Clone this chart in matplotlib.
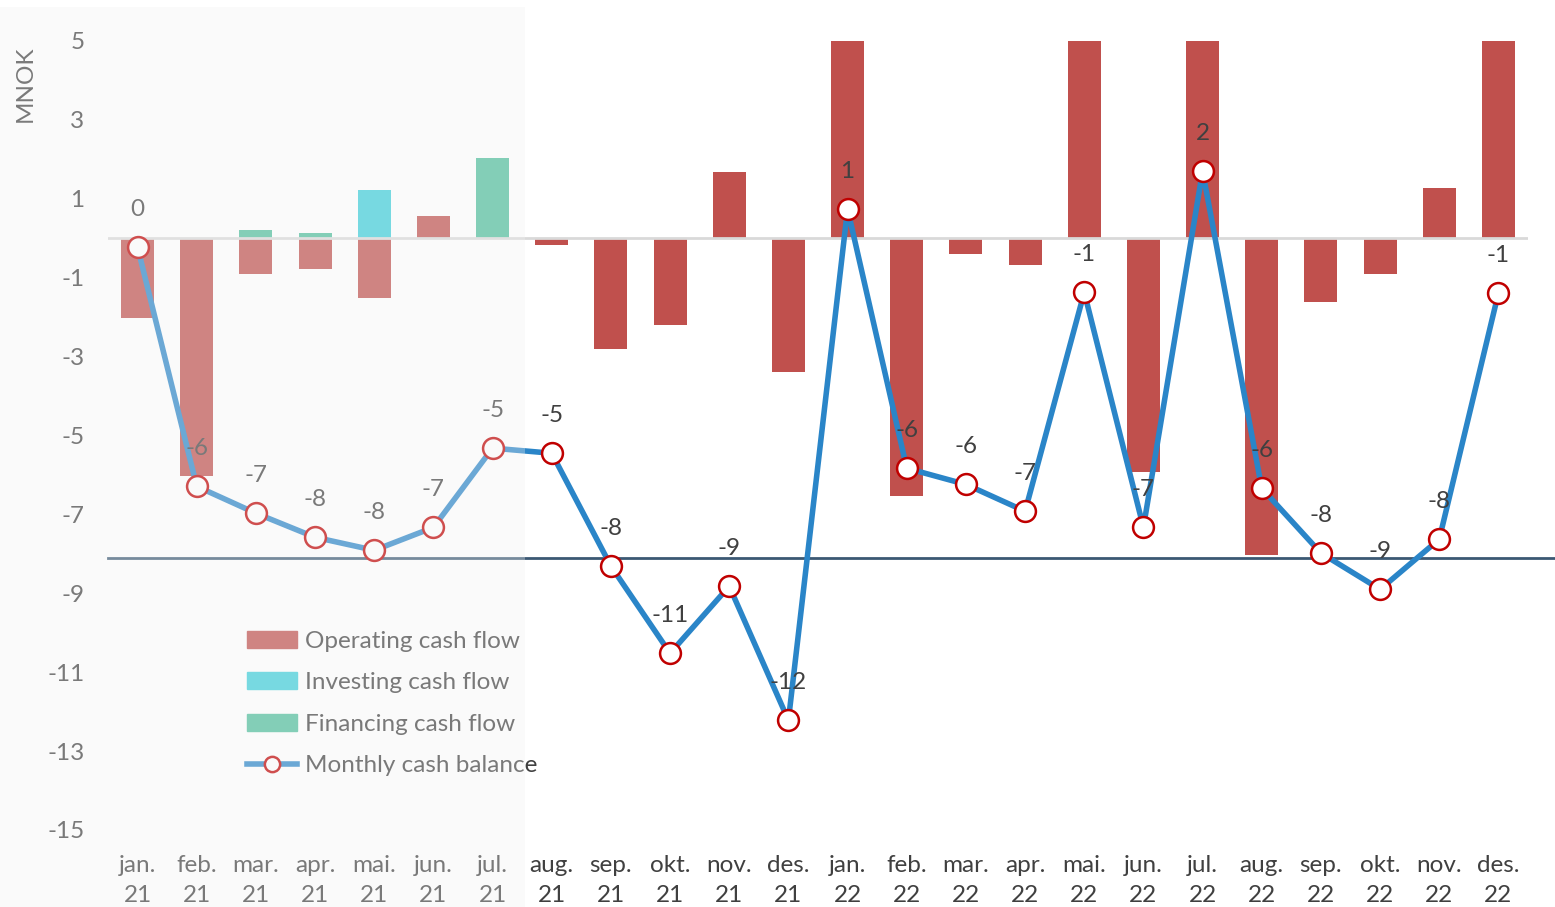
import matplotlib
matplotlib.use('Agg')
import matplotlib.pyplot as plt
from matplotlib.patches import Rectangle
from matplotlib.lines import Line2D
from matplotlib.patches import Patch

plt.rcParams['font.family'] = ['Lato', 'DejaVu Sans']

months = ['jan.', 'feb.', 'mar.', 'apr.', 'mai.', 'jun.', 'jul.', 'aug.', 'sep.', 'okt.', 'nov.', 'des.'] * 2
years = ['21'] * 12 + ['22'] * 12

operating = [-2.03, -6.03, -0.91, -0.79, -1.52, 0.56, 0.0, -0.18, -2.81, -2.20, 1.67, -3.40,
             12.96, -6.54, -0.41, -0.68, 5.55, -5.93, 9.03, -8.04, -1.62, -0.91, 1.27, 6.24]
investing = [0, 0, 0, 0, 1.22, 0, 0, 0, 0, 0, 0, 0,
             0, 0, 0, 0, 0, 0, 0, 0, 0, 0, 0, 0]
financing = [0, 0, 0.20, 0.13, 0, 0, 2.03, 0, 0, 0, 0, 0,
             0, 0, 0, 0, 0, 0, 0, 0, 0, 0, 0, 0]
balance = [-0.23, -6.29, -6.97, -7.58, -7.91, -7.33, -5.32, -5.45, -8.31, -10.52, -8.82, -12.22,
           0.74, -5.83, -6.24, -6.92, -1.37, -7.33, 1.70, -6.34, -7.98, -8.90, -7.63, -1.39]
minimum_level = -8.1
y_ticks = [5, 3, 1, -1, -3, -5, -7, -9, -11, -13, -15]

W, H = 1555, 907
FS = 17.5
TEXT = '#404040'
RED = '#c0504d'
CYAN = '#3ccfdb'
GREEN = '#4fbe9c'
BLUE = '#2a85c8'


def main():
    fig = plt.figure(figsize=(W / 100, H / 100), dpi=100)
    ax = fig.add_axes([108 / W, (H - 830) / H, (1528 - 108) / W, (830 - 41) / H])

    x = list(range(len(months)))
    width = 0.56
    ax.bar(x, operating, width, color=RED, zorder=2)
    ax.bar(x, investing, width, color=CYAN, zorder=2)
    ax.bar(x, financing, width, color=GREEN, zorder=2)

    ax.axhline(0, color='#d9d9d9', lw=2, zorder=2.5)
    ax.axhline(minimum_level, xmin=0, xmax=(W - 108) / (1528 - 108), color='#3b5873',
               lw=2, zorder=3, clip_on=False)

    ax.plot(x, balance, color=BLUE, lw=4, marker='o', markersize=15,
            markerfacecolor='white', markeredgecolor='#c00000', markeredgewidth=1.8,
            zorder=4)

    for xi, v in zip(x, balance):
        ax.annotate(f'{int(round(v))}', (xi, v), xytext=(0, 27), textcoords='offset points',
                    ha='center', va='center', fontsize=FS, color=TEXT, zorder=5)

    ax.set_xlim(-0.5, len(months) - 0.5)
    ax.set_ylim(-15, 5)
    ax.set_yticks(y_ticks)
    ax.set_yticklabels([str(t) for t in y_ticks])
    ax.set_xticks(x)
    ax.set_xticklabels([f'{m}\n{y}' for m, y in zip(months, years)], linespacing=1.5)
    ax.tick_params(axis='both', length=0, labelsize=FS, colors=TEXT)
    ax.tick_params(axis='x', pad=18)
    ax.tick_params(axis='y', pad=17)
    for s in ax.spines.values():
        s.set_visible(False)
    ax.set_facecolor('none')

    fig.text(25 / W, 1 - 84 / H, 'MNOK', rotation=90, ha='center', va='center',
             fontsize=FS, color=TEXT)

    handles = [
        Patch(color=RED),
        Patch(color=CYAN),
        Patch(color=GREEN),
        Line2D([0], [0], color=BLUE, lw=4, marker='o', markersize=11,
               markerfacecolor='white', markeredgecolor='#c00000', markeredgewidth=1.8),
    ]
    labels = ['Operating cash flow', 'Investing cash flow', 'Financing cash flow', 'Monthly cash balance']
    fig.legend(handles, labels, loc='upper left', bbox_to_anchor=(247 / W, 1 - 631 / H),
               frameon=False, fontsize=FS, labelcolor=TEXT, handlelength=2.05,
               handletextpad=0.35, labelspacing=0.84, borderpad=0, borderaxespad=0)

    # lighter overlay over the first months (actuals)
    fig.add_artist(Rectangle((0, 0), 525 / W, 1 - 7 / H, transform=fig.transFigure,
                             facecolor='#f0f0f0', edgecolor='none', alpha=0.33, zorder=10))

    fig.savefig('out.png', dpi=100)
    plt.close(fig)


if __name__ == '__main__':
    main()
